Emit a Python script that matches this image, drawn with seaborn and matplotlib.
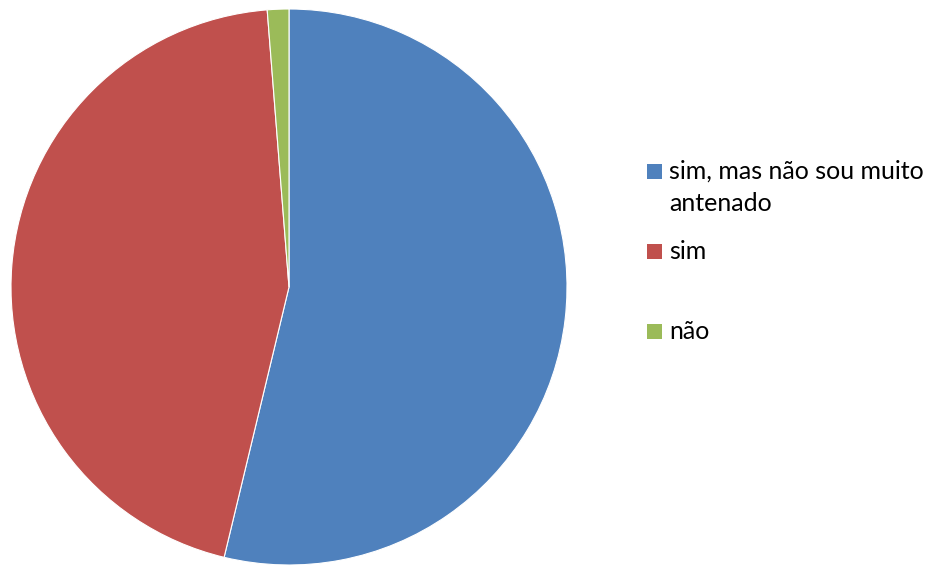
import matplotlib
matplotlib.use("Agg")
import matplotlib.pyplot as plt
from matplotlib.patches import Rectangle
import seaborn as sns

# respostas (contagens estimadas a partir do gráfico)
labels = ["sim, mas não sou muito\nantenado", "sim", "não"]
counts = [43, 36, 1]
colors = ["#4F81BD", "#C0504D", "#9BBB59"]

sns.set_theme(style="white")
plt.rcParams["font.family"] = ["Lato", "DejaVu Sans"]

W, H = 930, 566
fig = plt.figure(figsize=(W / 100, H / 100), dpi=100)

# pie: centre (289, 287) px, radius 278 px
cx, cy, r = 289, 287, 278
ax = fig.add_axes([(cx - r) / W, (H - cy - r) / H, 2 * r / W, 2 * r / H])
ax.pie(counts, colors=colors, startangle=90, counterclock=False,
       wedgeprops=dict(edgecolor="white", linewidth=0.8))
ax.set_xlim(-1, 1)
ax.set_ylim(-1, 1)
ax.set_aspect("equal")
ax.axis("off")

# legend drawn by hand (marker aligned with first line, like Excel)
baselines = [179, 259, 339]
for lab, col, base in zip(labels, colors, baselines):
    fig.patches.append(Rectangle((647 / W, (H - base) / H), 15 / W, 15 / H,
                                 transform=fig.transFigure, facecolor=col,
                                 edgecolor="none"))
    for i, line in enumerate(lab.split("\n")):
        fig.text(669 / W, (H - base - 32 * i) / H, line, fontsize=18,
                 color="black", va="baseline", ha="left")

fig.savefig("out.png", dpi=100)
